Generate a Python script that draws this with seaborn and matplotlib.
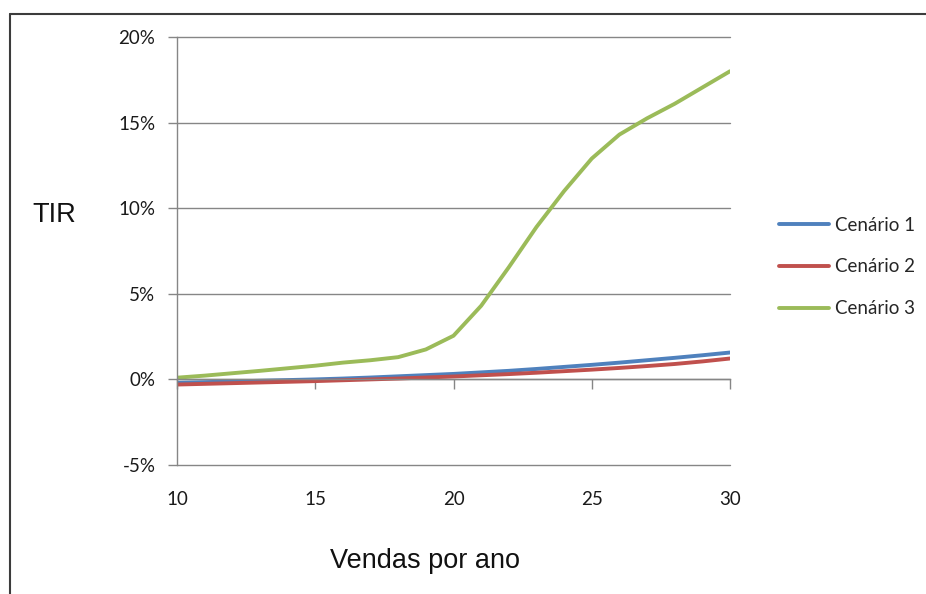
import matplotlib
matplotlib.use("Agg")
import matplotlib.pyplot as plt
from matplotlib.lines import Line2D
from matplotlib.ticker import FuncFormatter
import pandas as pd
import seaborn as sns

# Vendas por ano (eixo x)
vendas = [10, 11, 12, 13, 14, 15, 16, 17, 18, 19, 20,
          21, 22, 23, 24, 25, 26, 27, 28, 29, 30]

# TIR em % para cada cenário
tir_cenario1 = [-0.20, -0.16, -0.12, -0.08, -0.04, 0.00, 0.05, 0.11, 0.18, 0.25, 0.32,
                0.41, 0.50, 0.61, 0.73, 0.85, 0.98, 1.12, 1.26, 1.41, 1.57]
tir_cenario2 = [-0.30, -0.26, -0.22, -0.18, -0.14, -0.10, -0.05, 0.00, 0.05, 0.11, 0.17,
                0.24, 0.31, 0.39, 0.48, 0.57, 0.67, 0.78, 0.90, 1.05, 1.22]
tir_cenario3 = [0.10, 0.22, 0.36, 0.50, 0.65, 0.80, 0.98, 1.12, 1.30, 1.75, 2.55,
                4.30, 6.55, 8.90, 11.00, 12.90, 14.30, 15.25, 16.10, 17.05, 18.00]

cenarios = ["Cenário 1", "Cenário 2", "Cenário 3"]
cores = ["#4F81BD", "#C0504D", "#9BBB59"]
y_ticks = [-5, 0, 5, 10, 15, 20]
x_ticks = [10, 15, 20, 25, 30]

df = pd.concat([
    pd.DataFrame({"Vendas": vendas, "TIR": vals, "Cenário": nome})
    for nome, vals in zip(cenarios, [tir_cenario1, tir_cenario2, tir_cenario3])
], ignore_index=True)

sns.set_theme(style="white")
plt.rcParams["font.family"] = ["Lato", "DejaVu Sans"]

W, H = 926, 594
fig = plt.figure(figsize=(W / 100, H / 100), dpi=100)
ax = fig.add_axes([177 / W, 1 - 465 / H, 553 / W, 428 / H])

sns.lineplot(data=df, x="Vendas", y="TIR", hue="Cenário", hue_order=cenarios,
             palette=cores, linewidth=2.8, ax=ax, legend=False,
             solid_joinstyle="round")

ax.set_xlim(10, 30)
ax.set_ylim(-5, 20)
ax.set_xticks(x_ticks)
ax.set_yticks(y_ticks)
ax.yaxis.set_major_formatter(FuncFormatter(lambda v, p: f"{v:.0f}%"))

grid_col = "#868686"
ax.grid(axis="y", color=grid_col, linewidth=1.0)
ax.grid(axis="x", visible=False)
for gl in ax.get_ygridlines():
    gl.set_clip_on(False)
ax.set_axisbelow(True)

for s in ["top", "right"]:
    ax.spines[s].set_visible(False)
ax.spines["left"].set_color(grid_col)
ax.spines["left"].set_linewidth(1.0)
ax.spines["bottom"].set_position(("data", 0))
ax.spines["bottom"].set_color(grid_col)
ax.spines["bottom"].set_linewidth(1.0)

ax.tick_params(axis="y", direction="out", length=6.5, width=1.0, color=grid_col,
               pad=9, labelsize=13.5, labelcolor="#1a1a1a", left=True)
ax.tick_params(axis="x", direction="out", length=7, width=1.0, color=grid_col,
               pad=73, labelsize=13.5, labelcolor="#1a1a1a", bottom=True)

ax.set_xlabel("")
ax.set_ylabel("")

fig.text(54 / W, 1 - 215.5 / H, "TIR", fontsize=19.5, family="Liberation Sans",
         ha="center", va="center", color="#111111")
fig.text(424.5 / W, 1 - 568 / H, "Vendas por ano", fontsize=19.5,
         family="Liberation Sans", ha="center", va="baseline", color="#111111")

handles = [Line2D([0], [0], color=c, linewidth=2.8) for c in cores]
ax.legend(handles, cenarios, loc="center left",
          bbox_to_anchor=(779 / W, 1 - 267 / H), bbox_transform=fig.transFigure,
          frameon=False, fontsize=13.5, handlelength=2.67, handletextpad=0.32,
          labelspacing=1.33, borderpad=0, borderaxespad=0)

# moldura do gráfico
border = "#3c3c3c"
fig.add_artist(Line2D([10 / W, 1.0], [1 - 14 / H, 1 - 14 / H],
                      transform=fig.transFigure, color=border, linewidth=1.5))
fig.add_artist(Line2D([10 / W, 10 / W], [1 - 14 / H, 0.0],
                      transform=fig.transFigure, color=border, linewidth=1.5))

fig.savefig("out.png", dpi=100)
